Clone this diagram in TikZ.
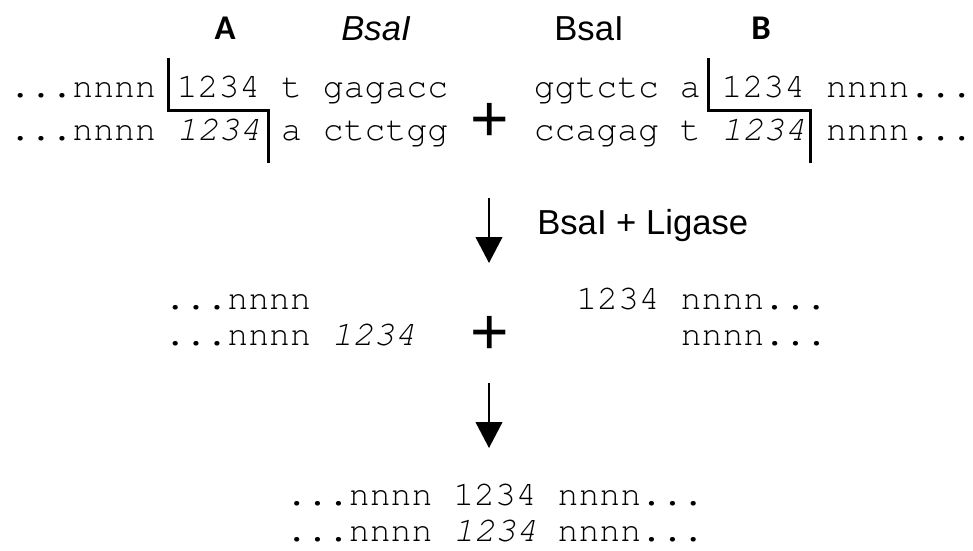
\documentclass[tikz,border=0pt]{standalone}
\usepackage{fontspec}
\setmainfont{Liberation Sans}
\setmonofont{TeX Gyre Cursor}
\newfontfamily\calib{Carlito}
\usetikzlibrary{arrows.meta}
\begin{document}
\begin{tikzpicture}[x=0.75pt,y=-0.75pt,
  seq/.style={anchor=base west, inner sep=0pt, font=\fontsize{26.1}{30}\ttfamily},
  lab/.style={anchor=base, inner sep=0pt, font=\fontsize{26}{30}\selectfont},
  letter/.style={anchor=base, inner sep=0pt, font=\calib\bfseries\fontsize{26}{30}\selectfont},
  plus/.style={anchor=base, inner sep=0pt, font=\fontsize{49.5}{55}\selectfont},
  cut/.style={line width=2.25pt, line join=miter},
  flow/.style={line width=1.5pt, -{Triangle[length=19.5pt,width=20pt]}}]
\useasboundingbox (0,0) rectangle (973,550);

% labels
\node[letter] (labA) at (225,39) {A};
\node[lab] (enzL) at (376,40) {\itshape BsaI};
\node[lab] (enzR) at (589,40) {BsaI};
\node[letter] (labB) at (761,39) {B};

% top sequences
\node[seq] (a1) at (9.5,97) {...nnnn 1234 t gagacc};
\node[seq] (a2) at (9.5,140) {...nnnn \textit{1234} a ctctgg};
\node[plus] (p1) at (489.5,141) {+};
\node[seq] (b1) at (533.5,97) {ggtctc a 1234 nnnn...};
\node[seq] (b2) at (533.5,140) {ccagag t \textit{1234} nnnn...};

% cut sites
\draw[cut] (168,58) -- (168,110) -- (268,110) -- (268,163);
\draw[cut] (708,58) -- (708,110) -- (810,110) -- (810,163);

% first step
\coordinate (s1) at (489,198);
\coordinate (e1) at (489,263);
\draw[flow] (s1) -- (e1);
\node[lab, anchor=base west] (enz) at (537,234) {BsaI + Ligase};

% middle
\node[seq] (c1) at (164.5,309) {...nnnn};
\node[seq] (c2) at (164.5,345) {...nnnn \textit{1234}};
\node[plus] (p2) at (490,354) {+};
\node[seq] (d1) at (576,309) {1234 nnnn...};
\node[seq] (d2) at (680.5,345) {nnnn...};

% second step
\coordinate (s2) at (489,383);
\coordinate (e2) at (489,448);
\draw[flow] (s2) -- (e2);

% product
\node[seq] (f1) at (286,505) {...nnnn 1234 nnnn...};
\node[seq] (f2) at (286,541) {...nnnn \textit{1234} nnnn...};
\end{tikzpicture}
\end{document}
